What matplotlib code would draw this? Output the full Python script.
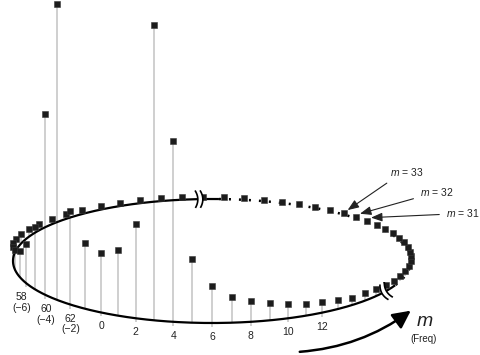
import numpy as np
import matplotlib
matplotlib.use('Agg')
import matplotlib.pyplot as plt
from matplotlib.patches import FancyArrowPatch, Polygon

plt.rcParams['font.family'] = ['Liberation Sans', 'DejaVu Sans']
plt.rcParams['mathtext.fontset'] = 'custom'
plt.rcParams['mathtext.it'] = 'Liberation Sans:italic'
plt.rcParams['mathtext.rm'] = 'Liberation Sans'

# ---- data: DFT bin index m and spectral magnitude |X(m)|
m_index = np.arange(64)
magnitude = np.array([
    59, 66, 94, 295, 181, 64, 37, 26, 21, 17, 14.5, 12, 11, 9, 7.5, 7.5,
    7, 6, 5.5, 5, 5, 4.5, 4, 3.5, 3, 3, 2.5, 2, 2, 2, 2, 2,
    2, 2, 2, 2, 2, 2, 2.5, 3, 3, 3.5, 4, 4.5, 5, 5, 5.5, 6,
    7, 7.5, 7.5, 9, 11, 12, 14.5, 17, 21, 26, 39, 62, 181, 296, 94, 66])

label_bins = [58, 60, 62, 0, 2, 4, 6, 8, 10, 12]
label_texts = ['58\n(\u22126)', '60\n(\u22124)', '62\n(\u22122)', '0', '2', '4',
               '6', '8', '10', '12']
annot_bins = [33, 32, 31]
annot_texts = ['$m$ = 33', '$m$ = 32', '$m$ = 31']

# ---- geometry (circle seen obliquely, drawn in pixel units)
cx, cy, a, b = 212.0, 261.0, 199.0, 62.0
front_bin = 6          # bin closest to the viewer
warp = np.deg2rad(15)  # mild foreshortening of the far side


def angle(m):
    t = 2 * np.pi * (np.asarray(m, dtype=float) - front_bin) / 64
    psi = t - warp * ((1 - np.cos(t)) / 2) ** 2
    return np.pi / 2 - psi


phi = angle(m_index)
xb = cx + a * np.cos(phi)
yb = cy + b * np.sin(phi)
depth_scale = np.where(np.sin(phi) >= 0, 1.0, 1 + 0.4 * np.sin(phi))
ym = yb - magnitude * depth_scale

fig = plt.figure(figsize=(4.8, 3.55), dpi=100)
ax = fig.add_axes([0, 0, 1, 1])
ax.set_xlim(0, 480)
ax.set_ylim(355, 0)
ax.axis('off')

# stems
is_lab = np.isin(m_index, label_bins)
ax.vlines(xb, ym, yb + np.where(is_lab, 4, 0), color='#c2c2c2', lw=1.1, zorder=1)

# circle: solid front/left part, dotted right/back part
ph_solid = np.deg2rad(np.linspace(23, 272, 400))
ax.plot(cx + a * np.cos(ph_solid), cy + b * np.sin(ph_solid), color='black',
        lw=1.6, zorder=2, solid_capstyle='butt')
ph_dot = np.deg2rad(np.linspace(-88, 23, 200))
ax.plot(cx + a * np.cos(ph_dot), cy + b * np.sin(ph_dot), color='black',
        lw=1.8, zorder=2, linestyle=(0, (0.8, 3.2)))


def draw_break(phi_deg):
    pb = np.deg2rad(phi_deg)
    px, py = cx + a * np.cos(pb), cy + b * np.sin(pb)
    tx, ty = -a * np.sin(pb), b * np.cos(pb)
    n = np.hypot(tx, ty)
    tx, ty = tx / n, ty / n
    nx, ny = -ty, tx
    s = np.linspace(-1, 1, 30)
    curves = []
    for off in (-2.5, 2.5):
        bulge = 2.2 * (1 - s ** 2)
        xs = px + tx * (off + bulge) + nx * 8 * s
        ys = py + ty * (off + bulge) + ny * 8 * s
        curves.append((xs, ys))
    poly = np.vstack([np.column_stack(curves[0]),
                      np.column_stack(curves[1])[::-1]])
    ax.add_patch(Polygon(poly, closed=True, facecolor='white',
                         edgecolor='none', zorder=5))
    for xs, ys in curves:
        ax.plot(xs, ys, color='black', lw=1.2, zorder=6)


draw_break(266)
draw_break(29)

# markers
ax.plot(xb, ym, linestyle='none', marker='s', markersize=5,
        color='#1c1c1c', markeredgecolor='#3a3a3a', markeredgewidth=0.4,
        zorder=4)

# bin labels under the front of the circle
label_dx = {58: -5, 60: 1}
for mb, txt in zip(label_bins, label_texts):
    ax.text(xb[mb] + label_dx.get(mb, 0), yb[mb] + 9, txt, ha='center',
            va='top', fontsize=7.5, color='#222222', linespacing=1.1, zorder=7)

# annotation arrows for m = 33, 32, 31
text_pos = [(407, 172), (437, 192), (463, 213)]
relpos = [(0.12, 0.0), (0.0, 0.1), (0.0, 0.4)]
for mb, txt, (tx0, ty0), rp in zip(annot_bins, annot_texts, text_pos, relpos):
    ax.annotate(txt, xy=(xb[mb] + 4, ym[mb] - 3), xytext=(tx0, ty0),
                ha='center', va='center', fontsize=7.5, color='#222222',
                arrowprops=dict(arrowstyle='-|>,head_length=0.9,head_width=0.35',
                                color='#222222', lw=0.8, relpos=rp,
                                shrinkA=3, shrinkB=0), zorder=7)

# frequency direction arrow
arr = FancyArrowPatch((297, 352), (413, 309), connectionstyle='arc3,rad=0.15',
                      arrowstyle='-|>,head_length=0.9,head_width=0.45',
                      mutation_scale=12, color='black', lw=1.8, zorder=7)
ax.add_patch(arr)
ax.text(425, 322, '$m$', ha='center', va='center', fontsize=14, color='#222222')
ax.text(424, 339, '(Freq)', ha='center', va='center', fontsize=7, color='#222222')

fig.savefig('out.png', dpi=100)
